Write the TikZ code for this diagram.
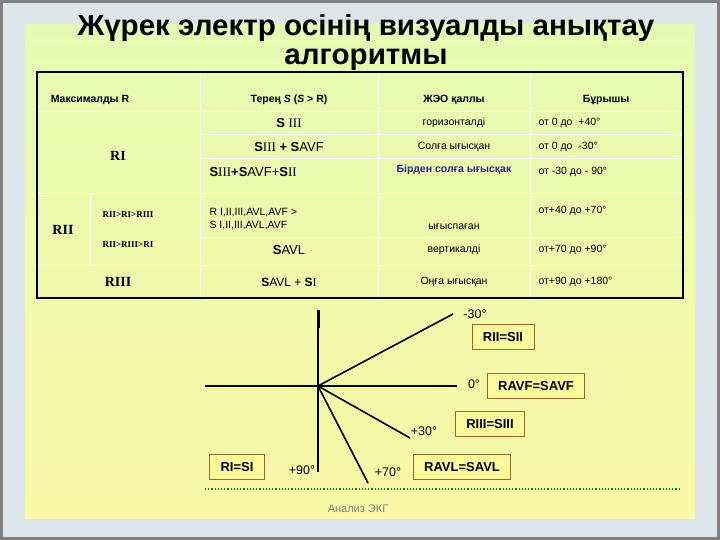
\documentclass[tikz,border=0pt]{standalone}
\usepackage{fontspec}
\setmainfont{Liberation Sans}
\newfontfamily\rom{Liberation Serif}
\begin{document}
\begin{tikzpicture}[x=1pt,y=-1pt,
  cell/.style={font=\fontsize{10.5}{12.5}\selectfont},
  bcell/.style={font=\bfseries\fontsize{10.5}{12.5}\selectfont},
  lbl/.style={font=\fontsize{12.5}{14}\selectfont},
  eqbox/.style={draw=brown!80!black,line width=0.8pt,fill=yellow!40,font=\bfseries\fontsize{13}{15}\selectfont,minimum height=25pt,inner xsep=11pt},
  ax/.style={line width=1.6pt}]
\useasboundingbox (0,0) rectangle (720,540);
\fill[cyan!20!gray!25] (0,0) rectangle (720,540);
\draw[gray,line width=3pt] (1.5,1.5) rectangle (718.5,538.5);
\shade[top color={rgb,255:red,228;green,250;blue,178},bottom color={rgb,255:red,250;green,248;blue,165}] (25,25) rectangle (695,518);
\node[font=\bfseries\fontsize{29}{29}\selectfont,align=center,xscale=1.02] (title) at (366,43) {Жүрек электр осінің визуалды анықтау\\алгоритмы};
% table
\begin{scope}[white,line width=1pt]
\draw (37,112) -- (683,112);
\draw (200,135) -- (683,135);
\draw (200,159) -- (683,159);
\draw (37,194) -- (683,194);
\draw (200,237) -- (683,237);
\draw (37,265) -- (683,265);
\draw (200,72) -- (200,298);
\draw (378,72) -- (378,298);
\draw (530,72) -- (530,298);
\draw (90,194) -- (90,265);
\end{scope}
\draw[line width=1.5pt] (37,72) rectangle (683,298);
\node[bcell] (h1) at (90,100) {Максималды R};
\node[bcell] (h2) at (289,100) {Терең \textit{S} (\textit{S} > R)};
\node[bcell] (h3) at (454,100) {ЖЭО қаллы};
\node[bcell] (h4) at (606,100) {Бұрышы};
\node[font=\rom\bfseries\fontsize{14}{16}\selectfont] (ri) at (118,156) {RI};
\node[font=\rom\bfseries\fontsize{14}{16}\selectfont] (rii) at (63,230) {RII};
\node[font=\rom\bfseries\fontsize{9}{10}\selectfont] (r1) at (128,215) {RII>RI>RIII};
\node[font=\rom\bfseries\fontsize{9}{10}\selectfont] (r2) at (128,245) {RII>RIII>RI};
\node[font=\rom\bfseries\fontsize{14}{16}\selectfont] (riii) at (118,282) {RIII};
\node[cell] (a1) at (289,123) {\fontsize{13}{15}\selectfont\textbf{S} {\rom III}};
\node[cell] (a2) at (289,147) {\fontsize{13}{15}\selectfont\textbf{S}{\rom III} \textbf{+ S}AVF};
\node[cell,anchor=west] (a3) at (206,172) {\fontsize{13}{15}\selectfont\textbf{S}{\rom III}\textbf{+S}AVF+\textbf{S}{\rom II}};
\node[cell,anchor=west,align=left] (a4) at (206,219) {R I,II,III,AVL,AVF >\\S I,II,III,AVL,AVF};
\node[cell] (a5) at (289,250) {\fontsize{13}{15}\selectfont\textbf{S}AVL};
\node[cell] (a6) at (289,282) {\fontsize{12}{15}\selectfont\textbf{S}AVL + \textbf{S}{\rom I}};
\node[cell] (b1) at (454,123) {горизонталді};
\node[cell] (b2) at (454,147) {Солға ығысқан};
\node[bcell,text={rgb,255:red,40;green,40;blue,150}] (b3) at (454,170) {Бірден солға ығысқак};
\node[cell] (b4) at (454,227) {ығыспаған};
\node[cell] (b5) at (454,250) {вертикалді};
\node[cell] (b6) at (454,282) {Оңға ығысқан};
\node[cell,anchor=west] (c1) at (535,123) {от 0 до \ +40°};
\node[cell,anchor=west] (c2) at (535,147) {от 0 до \ -30°};
\node[cell,anchor=west] (c3) at (535,172) {от -30 до - 90°};
\node[cell,anchor=west] (c4) at (535,211) {от+40 до +70°};
\node[cell,anchor=west] (c5) at (535,250) {от+70 до +90°};
\node[cell,anchor=west] (c6) at (535,282) {от+90 до +180°};
% axes
\coordinate (o) at (318,386);
\coordinate (top) at (318,310);
\coordinate (bot) at (318,472);
\coordinate (left) at (205,386);
\coordinate (right) at (457,386);
\coordinate (m30) at (453,314);
\coordinate (p30) at (410,438);
\coordinate (p70) at (368,483);
\draw[ax] (top) -- (bot);
\draw[line width=3pt] (top) -- (318,328);
\draw[ax] (left) -- (right);
\draw[ax] (o) -- (m30);
\draw[ax] (o) -- (p30);
\draw[ax] (o) -- (p70);
\node[lbl] (l1) at (475,314) {-30°};
\node[lbl] (l2) at (474,384) {0°};
\node[lbl] (l3) at (424,431) {+30°};
\node[lbl] (l4) at (302,470) {+90°};
\node[lbl] (l5) at (388,472) {+70°};
\node[eqbox] (e1) at (503,337) {RII=SII};
\node[eqbox] (e2) at (536,386) {RAVF=SAVF};
\node[eqbox] (e3) at (490,424) {RIII=SIII};
\node[eqbox] (e4) at (237,467) {RI=SI};
\node[eqbox] (e5) at (462,467) {RAVL=SAVL};
\draw[green!50!black,line width=1.2pt,dotted] (205,489) -- (680,489);
\node[text=gray,font=\fontsize{11}{13}\selectfont] (foot) at (358,509) {Анализ ЭКГ};
\end{tikzpicture}
\end{document}
